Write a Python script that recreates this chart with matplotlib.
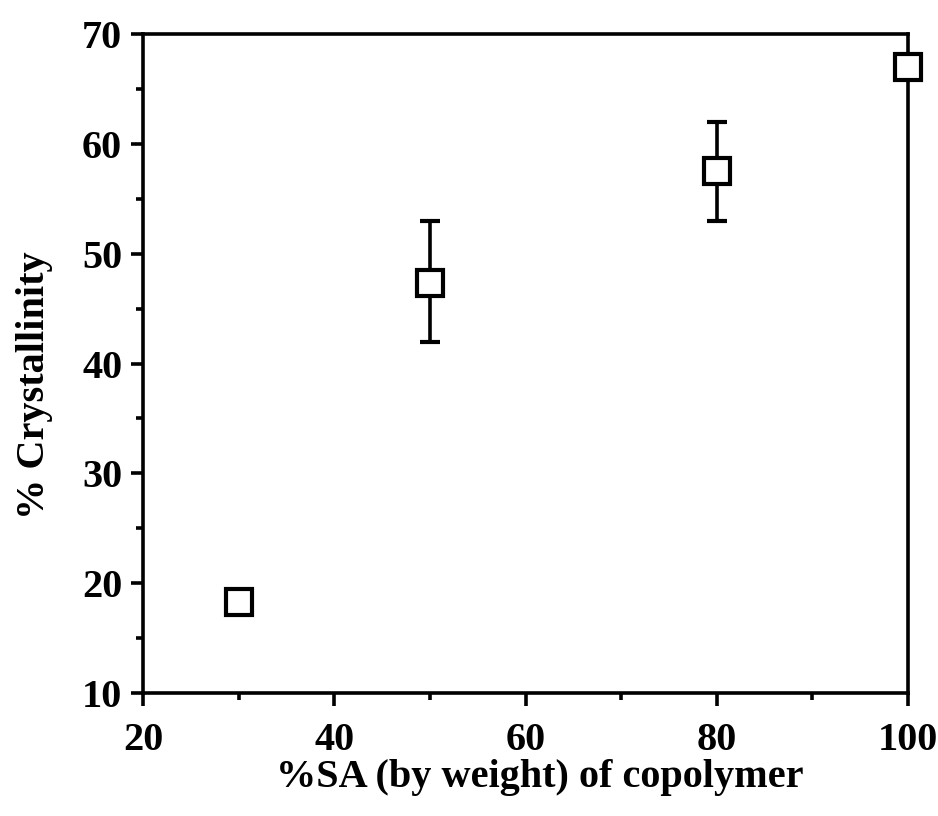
import matplotlib
matplotlib.use("Agg")
import matplotlib.pyplot as plt
from matplotlib.ticker import MultipleLocator

# % SA content of the copolymer and measured crystallinity
sa_content = [30, 50, 80, 100]
crystallinity = [18.3, 47.3, 57.5, 67.0]
err_low = [0.0, 5.3, 4.5, 0.0]
err_high = [0.0, 5.7, 4.5, 0.0]

plt.rcParams['font.family'] = ['Liberation Serif', 'DejaVu Serif']
plt.rcParams['font.weight'] = 'bold'

fig = plt.figure(figsize=(9.38, 8.16), dpi=100)
ax = fig.add_axes([0.1525, 0.1507, 0.8155, 0.8076])

ax.errorbar(sa_content, crystallinity, yerr=[err_low, err_high],
            fmt='s', color='black', ecolor='black', elinewidth=2.6,
            capsize=7, capthick=3, markersize=19, markeredgewidth=3,
            markerfacecolor='white', markeredgecolor='black', zorder=3,
            clip_on=False)

ax.set_xlim(20, 100)
ax.set_ylim(10, 70)
ax.xaxis.set_major_locator(MultipleLocator(20))
ax.xaxis.set_minor_locator(MultipleLocator(10))
ax.yaxis.set_major_locator(MultipleLocator(10))
ax.yaxis.set_minor_locator(MultipleLocator(5))

for s in ax.spines.values():
    s.set_linewidth(2.6)

ax.tick_params(which='both', direction='out', width=2.6, top=False, right=False)
ax.tick_params(which='major', length=9, labelsize=29)
ax.tick_params(axis='x', which='major', pad=12)
ax.tick_params(axis='y', which='major', pad=6)
ax.tick_params(which='minor', length=5)
for lbl in ax.get_xticklabels() + ax.get_yticklabels():
    lbl.set_fontweight('bold')

ax.set_xlabel('%SA (by weight) of copolymer', fontsize=29, fontweight='bold')
ax.set_ylabel('% Crystallinity', fontsize=29, fontweight='bold')
ax.xaxis.set_label_coords(0.518, -0.1)
ax.yaxis.set_label_coords(-0.118, 0.467)

fig.savefig('out.png', dpi=100)
